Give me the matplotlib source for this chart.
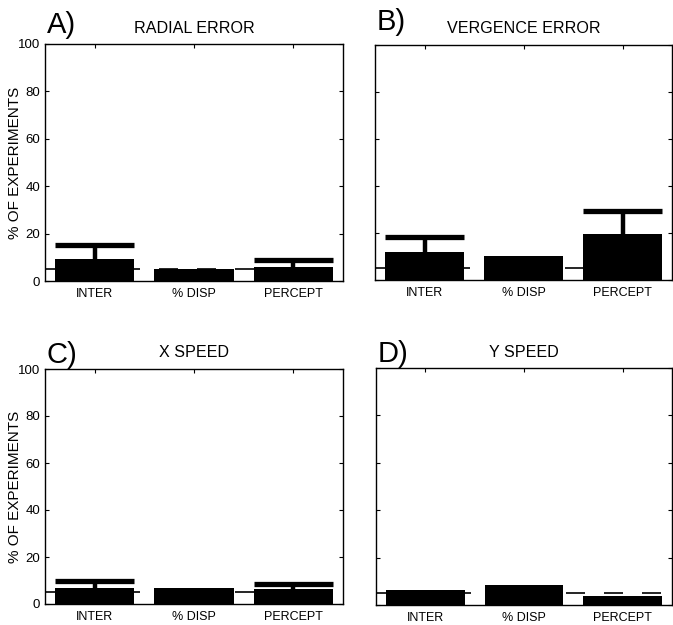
import numpy as np
import matplotlib
matplotlib.use("Agg")
from matplotlib import pyplot as plt

plt.rcParams['font.family'] = ['Liberation Sans', 'DejaVu Sans']

categories = ["INTER", "% DISP", "PERCEPT"]
chance_level = 5

panel_letters = ["A)", "B)", "C)", "D)"]
panel_titles = ["RADIAL ERROR", "VERGENCE ERROR", "X SPEED", "Y SPEED"]

# bar heights (% of experiments) and top of the upper error bar (None = no error bar)
bar_values = [
    [9.2, 5.2, 6.0],
    [12.0, 10.3, 19.5],
    [7.0, 6.8, 6.3],
    [6.4, 8.6, 4.0],
]
err_tops = [
    [15.4, None, 8.8],
    [18.5, None, 29.5],
    [9.8, None, 8.7],
    [None, None, None],
]

W, H = 673, 625
# axes boxes in pixels: left, right, top, bottom
boxes = [
    (45, 343, 44, 281),
    (375, 672, 45, 280),
    (45, 343, 369, 604),
    (376, 672, 368, 605),
]
# letter baseline y (px), title baseline y (px)
text_y = [(33, 33), (30, 33), (363, 357), (362, 357)]

fig = plt.figure(figsize=(W / 100, H / 100), dpi=100)

x = np.arange(1, 4)
for i in range(4):
    l, r, t, b = boxes[i]
    ax = fig.add_axes([l / W, 1 - b / H, (r - l) / W, (b - t) / H])

    ax.axhline(chance_level, color='black', lw=1.2, dashes=(11.4, 11.4), zorder=1)
    ax.bar(x, bar_values[i], width=0.8, color='black', zorder=2)
    for xi, v, e in zip(x, bar_values[i], err_tops[i]):
        if e is None:
            continue
        ax.vlines(xi, v, e, color='black', lw=3.2, zorder=3)
        ax.hlines(e, xi - 0.4, xi + 0.4, color='black', lw=3.8, zorder=3)

    ax.set_xlim(0.5, 3.5)
    ax.set_ylim(0, 100)
    ax.set_yticks([0, 20, 40, 60, 80, 100])
    ax.set_xticks(x)
    ax.set_xticklabels(categories, fontsize=9)
    ax.tick_params(direction='in', length=3, width=0.8, top=True, right=True,
                   labelsize=9.5)
    ax.tick_params(axis='x', pad=5, labelsize=9)
    for s in ax.spines.values():
        s.set_linewidth(1.0)

    if i % 2 == 0:
        ax.set_ylabel("% OF EXPERIMENTS", fontsize=11)
        ax.yaxis.set_label_coords(-0.078, 0.5)
    else:
        ax.set_yticklabels([])

    ly, ty = text_y[i]
    fig.text((l + 2) / W, 1 - ly / H, panel_letters[i], fontsize=21,
             ha='left', va='baseline')
    fig.text((l + r) / 2 / W, 1 - ty / H, panel_titles[i], fontsize=11.6,
             ha='center', va='baseline')

fig.savefig("out.png", dpi=100)
